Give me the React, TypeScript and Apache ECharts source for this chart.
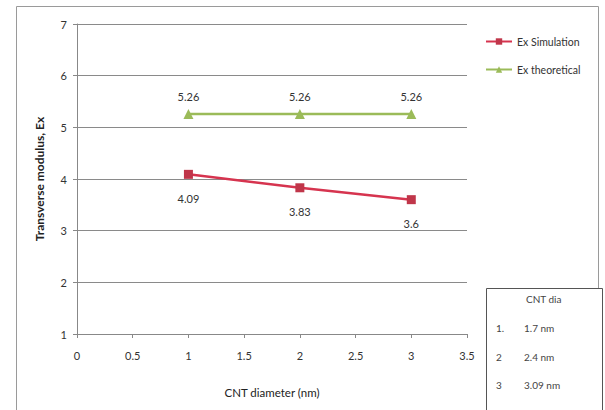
import React, { useEffect, useRef } from "react";
import * as echarts from "echarts";

const xValues = [1, 2, 3];
const simulation = [4.09, 3.83, 3.6];
const theoretical = [5.26, 5.26, 5.26];
const seriesNames = ["Ex Simulation", "Ex theoretical"];
const boxTitle = "CNT dia";
const boxIndex = ["1.", "2", "3"];
const boxValues = ["1.7 nm", "2.4 nm", "3.09 nm"];

const FONT = "Lato, 'Open Sans', sans-serif";

export default function App() {
  const ref = useRef<HTMLDivElement>(null);
  useEffect(() => {
    if (!ref.current) return;
    const chart = echarts.init(ref.current, null, { renderer: "svg" });
    const simData = xValues.map((x, i) => [x, simulation[i]]);
    const theoData = xValues.map((x, i) => [x, theoretical[i]]);
    const boxTexts: any[] = [
      {
        type: "text",
        left: 526,
        top: 294,
        style: { text: boxTitle, font: `10px ${FONT}`, fill: "#444" },
      },
    ];
    boxValues.forEach((v, i) => {
      boxTexts.push({
        type: "text",
        left: 496,
        top: 323 + i * 28.5,
        style: { text: boxIndex[i], font: `10px ${FONT}`, fill: "#444" },
      });
      boxTexts.push({
        type: "text",
        left: 524,
        top: 323 + i * 28.5,
        style: { text: v, font: `10px ${FONT}`, fill: "#444" },
      });
    });
    chart.setOption({
      animation: false,
      backgroundColor: "#fff",
      textStyle: { fontFamily: FONT },
      grid: { left: 77, top: 24, right: 138, bottom: 76, containLabel: false },
      xAxis: {
        type: "value",
        min: 0,
        max: 3.5,
        interval: 0.5,
        name: "CNT diameter (nm)",
        nameLocation: "middle",
        nameGap: 52,
        nameTextStyle: { fontSize: 11.5, color: "#222", fontFamily: FONT },
        axisLine: { show: true, lineStyle: { color: "#888", width: 1 } },
        axisTick: { show: true, length: 4, lineStyle: { color: "#888" } },
        axisLabel: { fontSize: 11, color: "#333", margin: 16, fontFamily: FONT },
        splitLine: { show: false },
      },
      yAxis: {
        type: "value",
        min: 1,
        max: 7,
        interval: 1,
        name: "Transverse modulus, Ex",
        nameLocation: "middle",
        nameGap: 32,
        nameTextStyle: { fontSize: 12, fontWeight: "bold", color: "#222", fontFamily: FONT },
        axisLine: { show: true, lineStyle: { color: "#888", width: 1 } },
        axisTick: { show: true, length: 4, lineStyle: { color: "#888" } },
        axisLabel: { fontSize: 11, color: "#333", margin: 10, fontFamily: FONT },
        splitLine: { show: true, lineStyle: { color: "#8a8a8a", width: 1 } },
      },
      legend: {
        orient: "vertical",
        left: 480,
        top: 31,
        itemGap: 17,
        itemWidth: 26,
        itemHeight: 8,
        textStyle: { fontSize: 10.5, color: "#333", fontFamily: FONT },
        data: seriesNames,
      },
      series: [
        {
          name: seriesNames[0],
          type: "line",
          data: simData,
          symbol: "rect",
          symbolSize: 9,
          lineStyle: { color: "#D6344F", width: 2.5 },
          itemStyle: { color: "#C0364A" },
          label: {
            show: true,
            position: "bottom",
            distance: 14,
            fontSize: 11,
            color: "#333",
            fontFamily: FONT,
          },
        },
        {
          name: seriesNames[1],
          type: "line",
          data: theoData,
          symbol: "triangle",
          symbolSize: 10,
          lineStyle: { color: "#9BBB59", width: 2.5 },
          itemStyle: { color: "#9BBB59" },
          label: {
            show: true,
            position: "top",
            distance: 7,
            fontSize: 11,
            color: "#333",
            fontFamily: FONT,
          },
        },
      ],
      graphic: [
        {
          type: "rect",
          shape: { x: 16.5, y: 6.5, width: 582, height: 430 },
          style: { fill: "none", stroke: "#9a9a9a", lineWidth: 1 },
          silent: true,
          z: -1,
        },
        {
          type: "rect",
          shape: { x: 486.5, y: 288.5, width: 116, height: 140 },
          style: { fill: "#fff", stroke: "#555", lineWidth: 1 },
          silent: true,
        },
        ...boxTexts,
      ],
    });
    return () => chart.dispose();
  }, []);
  return <div ref={ref} style={{ width: 605, height: 410, position: "absolute", left: 0, top: 0 }} />;
}
